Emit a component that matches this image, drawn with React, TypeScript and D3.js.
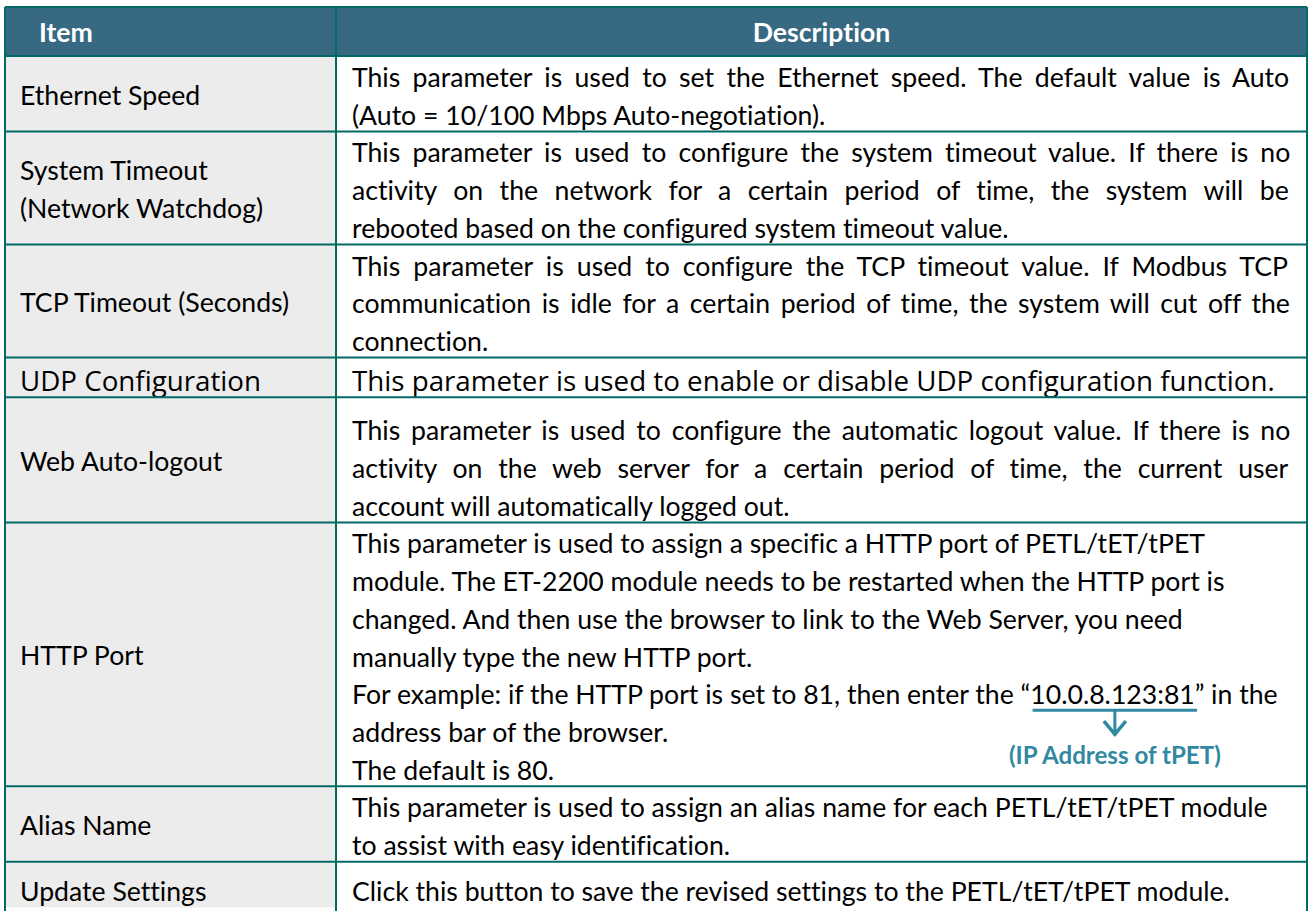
import React, { useMemo } from "react";
import * as d3 from "d3";

// table content
const headers = ["Item", "Description"];

const itemLabels: string[][] = [
  ["Ethernet Speed"],
  ["System Timeout", "(Network Watchdog)"],
  ["TCP Timeout (Seconds)"],
  ["UDP Configuration"],
  ["Web Auto-logout"],
  ["HTTP Port"],
  ["Alias Name"],
  ["Update Settings"],
];

const descLines: string[][] = [
  [
    "This parameter is used to set the Ethernet speed. The default value is Auto",
    "(Auto = 10/100 Mbps Auto-negotiation).",
  ],
  [
    "This parameter is used to configure the system timeout value. If there is no",
    "activity on the network for a certain period of time, the system will be",
    "rebooted based on the configured system timeout value.",
  ],
  [
    "This parameter is used to configure the TCP timeout value. If Modbus TCP",
    "communication is idle for a certain period of time, the system will cut off the",
    "connection.",
  ],
  ["This parameter is used to enable or disable UDP configuration function."],
  [
    "This parameter is used to configure the automatic logout value. If there is no",
    "activity on the web server for a certain period of time, the current user",
    "account will automatically logged out.",
  ],
  [
    "This parameter is used to assign a specific a HTTP port of PETL/tET/tPET",
    "module. The ET-2200 module needs to be restarted when the HTTP port is",
    "changed. And then use the browser to link to the Web Server, you need",
    "manually type the new HTTP port.",
    "For example: if the HTTP port is set to 81, then enter the \u201C10.0.8.123:81\u201D in the",
    "address bar of the browser.",
    "The default is 80.",
  ],
  [
    "This parameter is used to assign an alias name for each PETL/tET/tPET module",
    "to assist with easy identification.",
  ],
  ["Click this button to save the revised settings to the PETL/tET/tPET module."],
];

const justifiedRows = [true, true, true, false, true, false, false, false];
const udpRow = 3;
const notedRow = 5;
const notedLine = 4;
const notedAddress = "10.0.8.123:81";
const noteText = "(IP Address of tPET)";

// layout
const W = 1311;
const H = 911;
const left = 5;
const mid = 336;
const right = 1307;
const top = 7;
const headH = 49;
const lineStep = 37.7;
const rowPadTop = [0, 0, 0, 2, 12, 0, 0, 8];
const textX = 352;
const textRight = 1292;
const itemX = 20;

const border = "#006b66";
const headFill = "#376983";
const itemFill = "#ececec";
const noteColor = "#3189a1";
const noLig = '"liga" 0, "clig" 0, "dlig" 0, "calt" 0';

const ctx = document.createElement("canvas").getContext("2d")!;
const measure = (s: string, font: string) => {
  ctx.font = font;
  return ctx.measureText(s).width;
};

const App = () => {
  const layout = useMemo(() => {
    const body = (100 * 202) / measure("The default is 80.", "100px Lato");
    const udp = (100 * 923) / measure(descLines[udpRow][0], "100px 'Open Sans'");
    const note = (100 * 214) / measure(noteText, "bold 100px Lato");
    const heights = descLines.map((l, i) => rowPadTop[i] + l.length * lineStep);
    const tops = [0, ...d3.cumsum(heights)].map((v) => top + headH + v);
    return { body, udp, note, heights, tops };
  }, []);

  const { body, udp, note, heights, tops } = layout;

  const fontFor = (i: number) => (i === udpRow ? udp : body);
  const famFor = (i: number) => (i === udpRow ? "'Open Sans'" : "Lato");
  const descBase = (i: number, j: number) => tops[i] + rowPadTop[i] + 31 + j * lineStep;

  // underline and arrow under the example address
  const notedStr = descLines[notedRow][notedLine];
  const pre = notedStr.slice(0, notedStr.indexOf(notedAddress));
  const ux1 = textX + measure(pre, `${body}px Lato`);
  const ux2 = ux1 + measure(notedAddress, `${body}px Lato`);
  const uy = descBase(notedRow, notedLine) + 6;
  const ax = (ux1 + ux2) / 2;

  return (
    <svg
      width={W}
      height={H}
      style={{
        position: "absolute",
        left: 0,
        top: 0,
        background: "#fff",
        fontVariantLigatures: "none",
        fontFeatureSettings: noLig,
      }}
    >
      <rect x={left} y={top} width={right - left} height={headH} fill={headFill} />
      {descLines.map((_, i) => (
        <rect
          key={"bg" + i}
          x={left}
          y={tops[i]}
          width={mid - left}
          height={heights[i]}
          fill={itemFill}
        />
      ))}

      <text x={39} y={top + 35} fill="#fff" fontFamily="Lato" fontWeight="bold" fontSize={body}>
        {headers[0]}
      </text>
      <text
        x={(mid + right) / 2}
        y={top + 35}
        fill="#fff"
        fontFamily="Lato"
        fontWeight="bold"
        fontSize={body}
        textAnchor="middle"
      >
        {headers[1]}
      </text>

      {itemLabels.map((lines, i) => {
        let cy = tops[i] + heights[i] / 2 + 11;
        if (lines.length === 1) cy = Math.max(cy, descBase(i, 0));
        return lines.map((s, j) => (
          <text
            key={"it" + i + j}
            x={itemX}
            y={cy - ((lines.length - 1) * lineStep) / 2 + j * lineStep}
            fontFamily={famFor(i)}
            fontSize={fontFor(i)}
            fill="#000"
            style={{ fontFeatureSettings: noLig }}
          >
            {s}
          </text>
        ));
      })}

      {descLines.map((lines, i) =>
        lines.map((s, j) => {
          const size = fontFor(i);
          let ws = 0;
          if (justifiedRows[i] && j < lines.length - 1) {
            const nat = measure(s, `${size}px ${famFor(i)}`);
            const spaces = s.split(" ").length - 1;
            ws = (textRight - textX - nat) / spaces;
          }
          return (
            <text
              key={"d" + i + j}
              x={textX}
              y={descBase(i, j)}
              fontFamily={famFor(i)}
              fontSize={size}
              fill="#000"
              style={{
                wordSpacing: ws ? `${ws}px` : undefined,
                fontFeatureSettings: noLig,
              }}
            >
              {s}
            </text>
          );
        })
      )}

      <line x1={ux1} x2={ux2} y1={uy} y2={uy} stroke={noteColor} strokeWidth={3} />
      <line x1={ax} x2={ax} y1={uy} y2={uy + 25} stroke={noteColor} strokeWidth={3} />
      <polyline
        points={`${ax - 11},${uy + 11} ${ax},${uy + 24} ${ax + 11},${uy + 11}`}
        fill="none"
        stroke={noteColor}
        strokeWidth={3.5}
      />
      <text
        x={ax}
        y={uy + 54}
        fill={noteColor}
        fontFamily="Lato"
        fontWeight="bold"
        fontSize={note}
        textAnchor="middle"
      >
        {noteText}
      </text>

      {/* grid */}
      <g stroke={border} strokeWidth={2}>
        <line x1={left} x2={right} y1={top} y2={top} />
        {tops.slice(0, -1).map((y, i) => (
          <line key={"h" + i} x1={left} x2={right} y1={y} y2={y} />
        ))}
        <line x1={left} x2={left} y1={top} y2={H} />
        <line x1={mid} x2={mid} y1={top} y2={H} />
        <line x1={right} x2={right} y1={top} y2={H} />
      </g>
    </svg>
  );
};

export default App;
